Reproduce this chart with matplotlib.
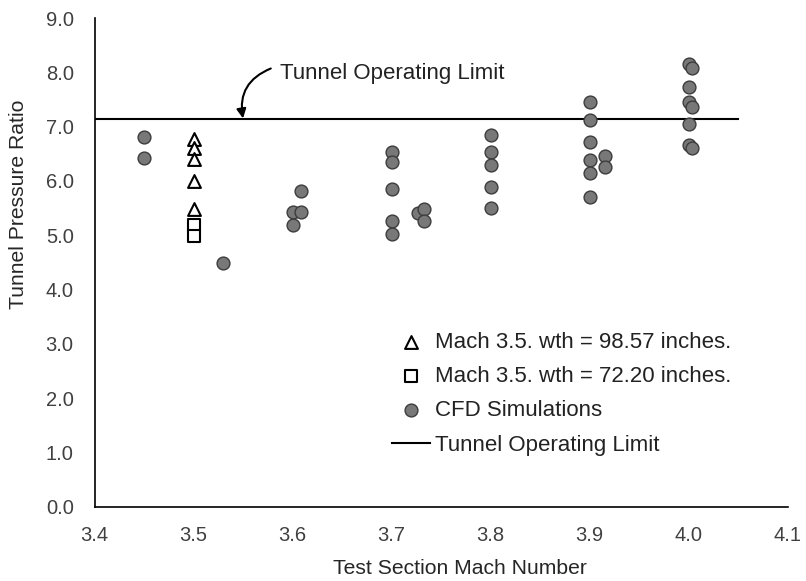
import matplotlib
matplotlib.use("Agg")
import matplotlib.pyplot as plt

plt.rcParams['font.family'] = ['Liberation Sans', 'DejaVu Sans']

# Data
tri_x = [3.5, 3.5, 3.5, 3.5, 3.5]
tri_y = [6.78, 6.60, 6.40, 6.00, 5.48]
sq_x = [3.5, 3.5]
sq_y = [5.18, 4.98]
cfd_x = [3.45, 3.45, 3.53,
         3.609, 3.600, 3.609, 3.600,
         3.700, 3.700, 3.700, 3.700, 3.700, 3.727, 3.733, 3.733,
         3.800, 3.800, 3.800, 3.800, 3.800,
         3.900, 3.900, 3.900, 3.900, 3.900, 3.900, 3.916, 3.916,
         4.000, 4.003, 4.000, 4.000, 4.003, 4.000, 4.000, 4.003]
cfd_y = [6.81, 6.42, 4.48,
         5.81, 5.43, 5.43, 5.19,
         6.53, 6.35, 5.86, 5.26, 5.03, 5.41, 5.48, 5.26,
         6.85, 6.53, 6.29, 5.89, 5.51,
         7.46, 7.13, 6.72, 6.38, 6.15, 5.71, 6.45, 6.26,
         8.15, 8.07, 7.73, 7.46, 7.37, 7.05, 6.66, 6.61]
limit_x = [3.4, 4.05]
limit_y = [7.14, 7.14]
xticks = [3.4, 3.5, 3.6, 3.7, 3.8, 3.9, 4.0, 4.1]
yticks = [0, 1, 2, 3, 4, 5, 6, 7, 8, 9]

fig = plt.figure(figsize=(8.06, 5.81), dpi=100)
ax = fig.add_axes([94.5/806, 1-506.7/581, (787.7-94.5)/806, (506.7-18)/581])

ax.plot(limit_x, limit_y, color='black', lw=1.5, label='Tunnel Operating Limit', zorder=2)
ax.scatter(cfd_x, cfd_y, s=85, marker='o', facecolor='#787878', edgecolor='#3c3c3c',
           linewidths=1.0, label='CFD Simulations', zorder=3)
ax.scatter(tri_x, tri_y, s=85, marker='^', facecolor='white', edgecolor='black',
           linewidths=1.5, label='Mach 3.5. wth = 98.57 inches.', zorder=4)
ax.scatter(sq_x, sq_y, s=80, marker='s', facecolor='white', edgecolor='black',
           linewidths=1.5, label='Mach 3.5. wth = 72.20 inches.', zorder=4)

ax.set_xlim(3.4, 4.1)
ax.set_ylim(0, 9)
ax.set_xticks(xticks)
ax.set_xticklabels([f"{v:.1f}" for v in xticks])
ax.set_yticks(yticks)
ax.set_yticklabels([f"{v:.1f}" for v in yticks])
ax.tick_params(length=0, labelsize=14.5, colors='#404040')
ax.tick_params(axis='y', pad=15)
ax.tick_params(axis='x', pad=14)
for s in ['top', 'right']:
    ax.spines[s].set_visible(False)
for s in ['left', 'bottom']:
    ax.spines[s].set_color('black')
    ax.spines[s].set_linewidth(1.2)

ax.set_xlabel('Test Section Mach Number', fontsize=15.2, color='#262626')
ax.set_ylabel('Tunnel Pressure Ratio', fontsize=15.2, color='#262626')
ax.xaxis.set_label_coords((460-94.5)/693.2, -(568-506.7)/488.7)
ax.yaxis.set_label_coords(-(94.5-19)/693.2, (506.7-204)/488.7)
ax.xaxis.label.set_va('center')
ax.yaxis.label.set_va('center')

ax.text(3.587, 7.98, 'Tunnel Operating Limit', fontsize=16, color='#222222',
        va='center', ha='left')
ax.annotate('', xy=(3.550, 7.15), xytext=(3.578, 8.07),
            arrowprops=dict(arrowstyle='-|>', color='black', lw=1.5,
                            connectionstyle='arc3,rad=0.4', shrinkA=0, shrinkB=0,
                            mutation_scale=14))

handles, labels = ax.get_legend_handles_labels()
order = [2, 3, 1, 0]
leg = ax.legend([handles[i] for i in order], [labels[i] for i in order],
                loc='upper left', bbox_to_anchor=(392/806, 1-331.5/581),
                bbox_transform=fig.transFigure, frameon=False, fontsize=16,
                handlelength=1.7, handletextpad=0.25, labelspacing=0.6,
                borderpad=0, borderaxespad=0)
for t in leg.get_texts():
    t.set_color('#222222')

fig.savefig('out.png', dpi=100)
